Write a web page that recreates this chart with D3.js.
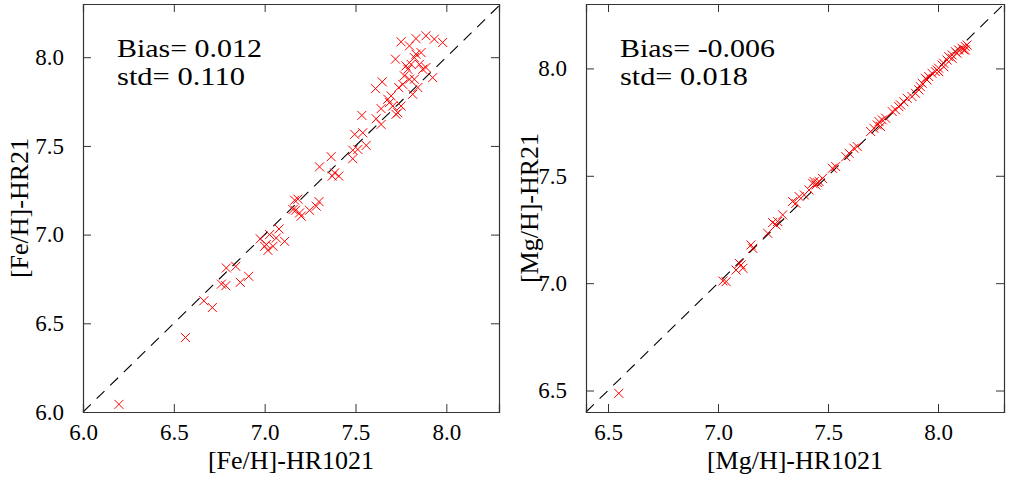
<!DOCTYPE html>
<html>
<head>
<meta charset="utf-8">
<script src="https://cdn.jsdelivr.net/npm/d3@7"></script>
<style>
  body { margin: 0; background: #fff; }
  svg text { font-family: "Liberation Serif", "DejaVu Serif", serif; fill: #000; }
</style>
</head>
<body>
<svg id="chart" width="1035" height="480"></svg>
<script>
// Fe panel values
const feX = [6.198, 6.564, 6.665, 6.712, 6.762, 6.786, 6.789, 6.841, 6.866, 6.912,
  6.976, 7.0, 7.018, 7.027, 7.046, 7.064, 7.079, 7.11, 7.009,
  7.165, 7.183, 7.17, 7.192, 7.201, 7.247, 7.284, 7.299, 7.156,
  7.302, 7.366, 7.372, 7.385, 7.408,
  7.485, 7.485, 7.496, 7.513, 7.54, 7.559, 7.535, 7.614, 7.61, 7.641, 7.647, 7.641,
  7.678, 7.687, 7.696, 7.705, 7.723, 7.733, 7.751, 7.738, 7.72, 7.76, 7.769,
  7.751, 7.797, 7.833, 7.888, 7.934, 7.98,
  7.778, 7.788, 7.806, 7.824, 7.833, 7.852, 7.861, 7.87, 7.888, 7.925, 7.824, 7.815, 7.843, 7.797];
const feY = [6.043, 6.42, 6.627, 6.589, 6.721, 6.712, 6.812, 6.821, 6.731, 6.765,
  6.976, 6.934, 6.911, 7.0, 6.934, 6.981, 7.032, 6.962, 6.944,
  7.194, 7.2, 7.137, 7.122, 7.104, 7.137, 7.16, 7.186, 7.141,
  7.382, 7.439, 7.33, 7.348, 7.33,
  7.476, 7.428, 7.565, 7.48, 7.574, 7.503, 7.672, 7.653, 7.823, 7.621, 7.861, 7.71,
  7.763, 7.744, 7.782, 7.725, 7.678, 7.687, 7.725, 7.829, 7.989, 7.847, 7.895,
  8.087, 8.064, 8.105, 8.121, 8.102, 8.083,
  7.951, 7.932, 7.96, 7.998, 8.017, 7.96, 8.026, 7.932, 7.942, 7.885, 7.876, 7.791, 7.829, 7.876];

// Mg panel values
const mgX = [6.549, 7.022, 7.037, 7.082, 7.105, 7.113, 7.097, 7.15, 7.158,
  7.226, 7.248, 7.264, 7.271, 7.294, 7.339, 7.354, 7.369, 7.392, 7.414,
  7.43, 7.437, 7.445, 7.452, 7.46, 7.475, 7.52, 7.535, 7.581, 7.596, 7.618, 7.633,
  7.694, 7.709, 7.724, 7.732, 7.739, 7.747, 7.762,
  7.792, 7.807, 7.822, 7.83, 7.845, 7.86, 7.882, 7.898,
  7.913, 7.92, 7.928, 7.95, 7.958, 7.973, 7.988, 7.996, 8.003, 8.018, 8.026,
  8.041, 8.049, 8.064, 8.079, 8.094, 8.109, 8.124, 8.117, 8.086,
  8.003, 7.943, 8.026, 8.064, 8.124, 8.132];
const mgY = [6.487, 7.01, 7.007, 7.061, 7.085, 7.069, 7.092, 7.178, 7.162,
  7.232, 7.282, 7.271, 7.287, 7.318, 7.38, 7.372, 7.403, 7.411, 7.434,
  7.465, 7.473, 7.457, 7.468, 7.473, 7.488, 7.535, 7.543, 7.589, 7.605, 7.628, 7.636,
  7.706, 7.721, 7.737, 7.752, 7.729, 7.76, 7.768,
  7.799, 7.807, 7.822, 7.83, 7.845, 7.861, 7.869, 7.884,
  7.9, 7.915, 7.931, 7.946, 7.962, 7.977, 7.985, 7.993, 8.001, 8.016, 8.024,
  8.039, 8.055, 8.063, 8.078, 8.086, 8.094, 8.102, 8.086, 8.071,
  7.985, 7.954, 8.008, 8.047, 8.086, 8.109];

const feTicks = [6.0, 6.5, 7.0, 7.5, 8.0];
const mgTicks = [6.5, 7.0, 7.5, 8.0];

const serif = '"Liberation Serif", "DejaVu Serif", serif';
const svg = d3.select("#chart");

function drawPanel(opts) {
  const x = d3.scaleLinear().domain(opts.xDomain).range([opts.left, opts.right]);
  const y = d3.scaleLinear().domain(opts.yDomain).range([412, 4]);
  const g = svg.append("g");
  const lo = Math.max(opts.xDomain[0], opts.yDomain[0]);
  const hi = Math.min(opts.xDomain[1], opts.yDomain[1]);

  // one-to-one line
  g.append("line")
    .attr("x1", x(lo)).attr("y1", y(lo))
    .attr("x2", x(hi)).attr("y2", y(hi))
    .attr("stroke", "#000").attr("stroke-width", 1.1)
    .attr("stroke-dasharray", "11,8");

  const pts = opts.xs.map((v, i) => [v, opts.ys[i]]);
  const s = 4.5;
  g.selectAll("path.pt").data(pts).join("path")
    .attr("class", "pt")
    .attr("d", d => {
      const cx = x(d[0]), cy = y(d[1]);
      return `M${cx - s},${cy - s}L${cx + s},${cy + s}M${cx - s},${cy + s}L${cx + s},${cy - s}`;
    })
    .attr("stroke", "#ff0000").attr("stroke-width", 1).attr("fill", "none");

  // axes, ticks pointing in on all four sides
  const tk = 8;
  g.append("g").attr("transform", "translate(0,412)")
    .call(d3.axisBottom(x).tickValues(opts.xTicks).tickSize(-tk).tickPadding(12).tickFormat(d3.format(".1f")));
  g.append("g").attr("transform", "translate(0,4)")
    .call(d3.axisTop(x).tickValues(opts.xTicks).tickSize(-tk).tickFormat(""));
  g.append("g").attr("transform", `translate(${opts.left},0)`)
    .call(d3.axisLeft(y).tickValues(opts.yTicks).tickSize(-tk).tickPadding(19).tickFormat(d3.format(".1f")));
  g.append("g").attr("transform", `translate(${opts.right},0)`)
    .call(d3.axisRight(y).tickValues(opts.yTicks).tickSize(-tk).tickFormat(""));
  g.selectAll("g").attr("font-family", serif);
  g.selectAll(".domain").attr("stroke", "#333").attr("stroke-width", 1.2);
  g.selectAll(".tick line").attr("stroke", "#333");
  g.selectAll(".tick text").attr("font-size", 23).style("font-family", serif);

  g.append("text").attr("x", (opts.left + opts.right) / 2).attr("y", 469)
    .attr("text-anchor", "middle").style("font-size", "26px").text(opts.xLabel);
  g.append("text")
    .attr("transform", `translate(${opts.yLabelX},208) rotate(-90)`)
    .attr("text-anchor", "middle").style("font-size", "26px").text(opts.yLabel);

  g.append("text").attr("x", opts.left + 34).attr("y", 57)
    .style("font-size", "25px")
    .attr("textLength", opts.biasW).attr("lengthAdjust", "spacingAndGlyphs")
    .text(opts.bias);
  g.append("text").attr("x", opts.left + 34).attr("y", 85)
    .style("font-size", "25px")
    .attr("textLength", opts.stdW).attr("lengthAdjust", "spacingAndGlyphs")
    .text(opts.std);
}

drawPanel({
  left: 83, right: 499, xDomain: [6.0, 8.29], yDomain: [6.0, 8.3],
  xTicks: feTicks, yTicks: feTicks, xs: feX, ys: feY,
  xLabel: "[Fe/H]-HR1021", yLabel: "[Fe/H]-HR21", yLabelX: 28,
  bias: "Bias= 0.012", std: "std= 0.110", biasW: 145, stdW: 128
});
drawPanel({
  left: 586, right: 1004, xDomain: [6.4, 8.3], yDomain: [6.4, 8.3],
  xTicks: mgTicks, yTicks: mgTicks, xs: mgX, ys: mgY,
  xLabel: "[Mg/H]-HR1021", yLabel: "[Mg/H]-HR21", yLabelX: 538,
  bias: "Bias= -0.006", std: "std= 0.018", biasW: 155, stdW: 128
});
</script>
</body>
</html>
